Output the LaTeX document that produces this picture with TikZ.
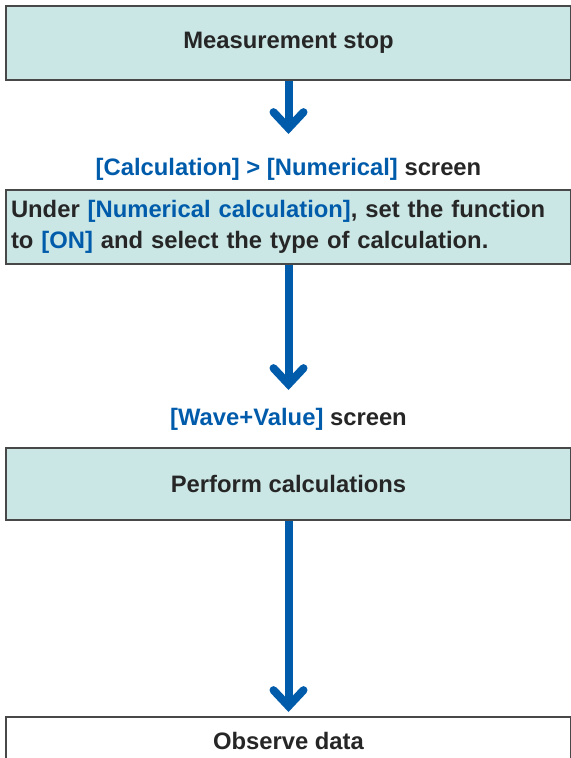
\documentclass[tikz,border=0pt]{standalone}
\usepackage{fontspec}
\setmainfont{Liberation Sans}
\usetikzlibrary{positioning,arrows.meta}
\definecolor{FlowFill}{RGB}{202,231,229}
\definecolor{FlowEdge}{RGB}{72,72,72}
\definecolor{FlowBlue}{RGB}{0,92,171}
\newcommand{\ui}[1]{\textcolor{FlowBlue}{#1}}
\tikzset{
  flow box/.style={
    draw=FlowEdge,
    line width=1pt,
    fill=FlowFill,
    minimum width=282.5pt,
    inner sep=2.5pt,
    font=\fontsize{11.9}{15.5}\selectfont\bfseries,
    text=black!85
  },
  flow end/.style={flow box, fill=white},
  flow screen/.style={inner sep=0pt, font=\fontsize{11.9}{14}\selectfont\bfseries, text=black!85},
  flow arrow/.style={line width=4pt, FlowBlue, -{Straight Barb[length=8pt, width=15pt, line cap=round]}}
}

\begin{document}
\begin{tikzpicture}
\useasboundingbox (0,0) rectangle (285.5pt,-379pt);
\node[flow box, anchor=north west, minimum height=37pt] (stop) at (2.5pt,-2.5pt) {Measurement stop};
\node[flow box, below=54pt of stop, minimum height=37pt, text width=277.5pt, align=left] (setfn)
  {Under \ui{[Numerical calculation]}, set the function\\to \ui{[ON]} and select the type of calculation.};
\node[flow box, below=91pt of setfn, minimum height=36pt] (calc) {Perform calculations};
\node[flow end, below=97.5pt of calc, minimum height=24pt] (observe) {Observe data};
\node[flow screen, above=4pt of setfn] (numscr) {\ui{[Calculation] > [Numerical]} screen};
\node[flow screen, above=8pt of calc] (wavescr) {\ui{[Wave+Value]} screen};
\coordinate[below=26.5pt of stop.south] (tip1);
\coordinate[below=62.5pt of setfn.south] (tip2);
\draw[flow arrow] (stop.south) -- (tip1);
\draw[flow arrow] (setfn.south) -- (tip2);
\draw[flow arrow, shorten >=2pt] (calc.south) -- (observe.north);
\end{tikzpicture}
\end{document}
